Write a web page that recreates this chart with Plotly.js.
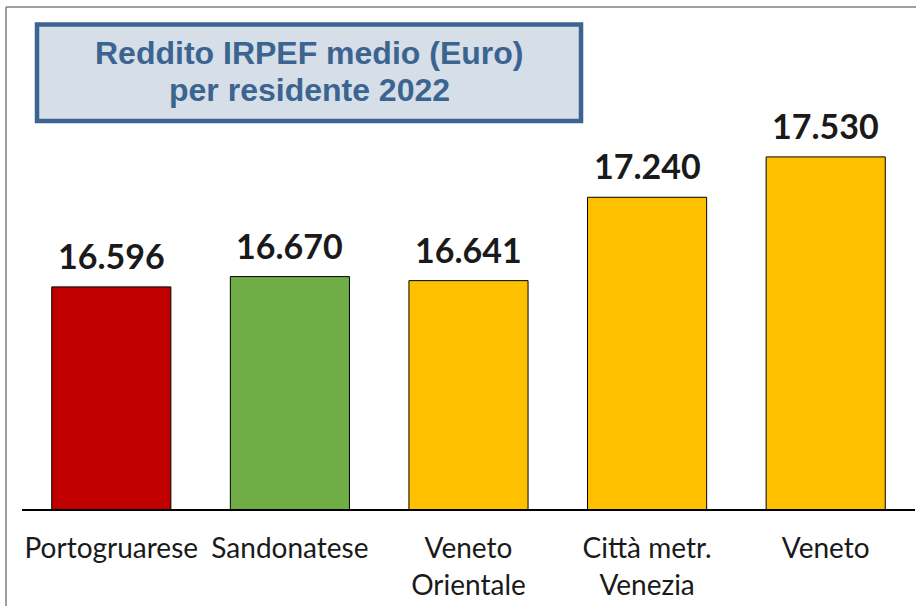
<!DOCTYPE html>
<html>
<head>
<meta charset="utf-8">
<script src="https://cdn.plot.ly/plotly-3.0.1.min.js"></script>
<style>html,body{margin:0;padding:0;background:#fff;}</style>
</head>
<body>
<div id="chart" style="width:916px;height:606px;"></div>
<script>
const categories = ["Portogruarese", "Sandonatese", "Veneto<br>Orientale", "Città metr.<br>Venezia", "Veneto"];
const values = [16596, 16670, 16641, 17240, 17530];
const valueLabels = ["16.596", "16.670", "16.641", "17.240", "17.530"];
const titleLines = ["Reddito IRPEF medio (Euro)", "per residente 2022"];

const barColors = ["#C00000", "#70AD47", "#FFC000", "#FFC000", "#FFC000"];

const trace = {
  type: "bar",
  x: categories,
  y: values,
  cliponaxis: false,
  marker: {color: barColors, line: {color: "#000000", width: 1}},
  hoverinfo: "none"
};

const valueAnnotations = categories.map((c, i) => ({
  x: c, y: values[i], xref: "x", yref: "y",
  xanchor: "center", yanchor: "bottom", yshift: 9,
  text: "<b>" + valueLabels[i] + "</b>", showarrow: false,
  font: {family: "Lato, 'Open Sans', sans-serif", size: 34, color: "#1a1a1a"}
}));

const layout = {
  width: 916,
  height: 606,
  margin: {l: 22, r: 1, t: 8, b: 97},
  paper_bgcolor: "#ffffff",
  plot_bgcolor: "#ffffff",
  showlegend: false,
  bargap: 0.333,
  xaxis: {
    type: "category",
    showline: true,
    linecolor: "#000000",
    linewidth: 1.5,
    ticks: "",
    showgrid: false,
    zeroline: false,
    ticklabelstandoff: 14,
    tickfont: {family: "Lato, 'Open Sans', sans-serif", size: 28, color: "#1a1a1a"}
  },
  yaxis: {
    range: [15000, 18600],
    visible: false,
    showgrid: false,
    zeroline: false
  },
  shapes: [
    {type: "line", xref: "paper", yref: "paper", x0: -0.0179, x1: 1.02, y0: 1.002, y1: 1.002,
     line: {color: "#7f7f7f", width: 1.5}},
    {type: "line", xref: "paper", yref: "paper", x0: -0.0179, x1: -0.0179, y0: 1.002, y1: -0.2,
     line: {color: "#7f7f7f", width: 1.5}},
    {type: "rect", xref: "paper", yref: "paper", x0: 0.0168, x1: 0.626, y0: 0.7745, y1: 0.967,
     fillcolor: "#D6DEE8", line: {color: "#3B6491", width: 4.5}, layer: "above"}
  ],
  annotations: valueAnnotations.concat([
    {xref: "paper", yref: "paper", x: 0.3214, y: (509 - 53) / 501, xanchor: "center", yanchor: "middle",
     text: "<b>" + titleLines[0] + "</b>", showarrow: false,
     font: {family: "'Liberation Sans', Arial, sans-serif", size: 32, color: "#3B6491"}},
    {xref: "paper", yref: "paper", x: 0.3214, y: (509 - 90) / 501, xanchor: "center", yanchor: "middle",
     text: "<b>" + titleLines[1] + "</b>", showarrow: false,
     font: {family: "'Liberation Sans', Arial, sans-serif", size: 32, color: "#3B6491"}}
  ])
};

Plotly.newPlot("chart", [trace], layout, {displayModeBar: false, staticPlot: true});
</script>
</body>
</html>
